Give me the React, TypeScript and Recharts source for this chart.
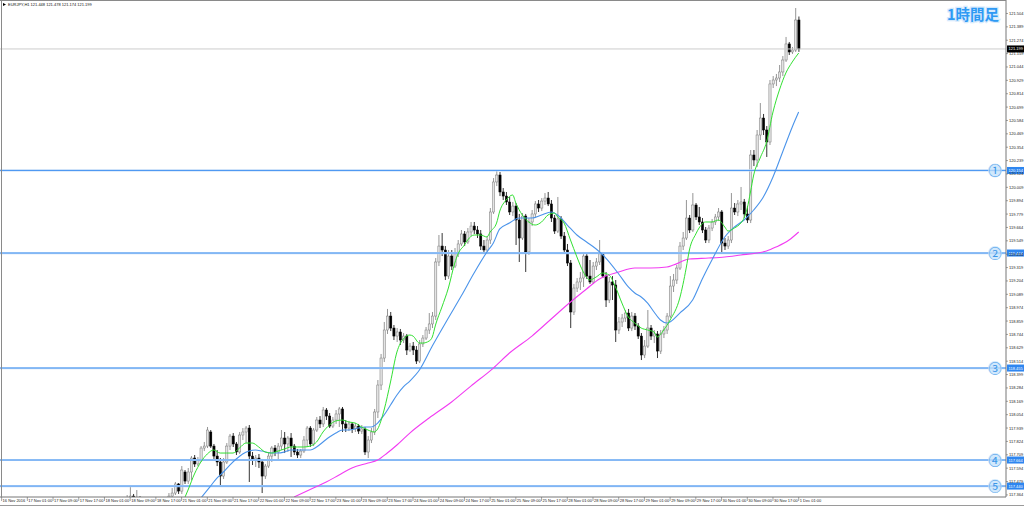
import { Bar, ComposedChart, Line, ReferenceLine, XAxis, YAxis } from "recharts";

// EURJPY H1, first visible bar index (bars before it sit below the window)
const firstBar = 36;
const slotCount = 313; // bars + empty chart shift on the right

// [open, high, low, close]
const candles: [number, number, number, number][] = [
  [117.191, 117.277, 117.148, 117.234],
  [117.234, 117.32, 117.191, 117.277],
  [117.277, 117.337, 117.217, 117.251],
  [117.251, 117.363, 117.234, 117.32],
  [117.32, 117.432, 117.277, 117.354],
  [117.354, 117.372, 117.268, 117.303],
  [117.303, 117.406, 117.268, 117.337],
  [117.337, 117.354, 117.251, 117.286],
  [117.286, 117.303, 117.2, 117.234],
  [117.234, 117.303, 117.2, 117.268],
  [117.268, 117.286, 117.182, 117.217],
  [117.217, 117.294, 117.191, 117.251],
  [117.251, 117.32, 117.217, 117.277],
  [117.277, 117.337, 117.251, 117.303],
  [117.303, 117.329, 117.234, 117.268],
  [117.268, 117.346, 117.243, 117.32],
  [117.32, 117.38, 117.294, 117.354],
  [117.354, 117.423, 117.329, 117.38],
  [117.38, 117.475, 117.363, 117.458],
  [117.458, 117.466, 117.372, 117.397],
  [117.397, 117.612, 117.372, 117.578],
  [117.561, 117.578, 117.458, 117.483],
  [117.483, 117.595, 117.458, 117.561],
  [117.561, 117.698, 117.492, 117.681],
  [117.681, 117.707, 117.604, 117.63],
  [117.63, 117.69, 117.612, 117.664],
  [117.664, 117.784, 117.647, 117.767],
  [117.767, 117.819, 117.741, 117.784],
  [117.784, 117.948, 117.767, 117.922],
  [117.905, 117.922, 117.767, 117.784],
  [117.784, 117.802, 117.673, 117.698],
  [117.698, 117.75, 117.612, 117.647],
  [117.647, 117.681, 117.449, 117.526],
  [117.526, 117.681, 117.501, 117.647],
  [117.647, 117.81, 117.63, 117.784],
  [117.784, 117.888, 117.75, 117.87],
  [117.87, 117.896, 117.776, 117.802],
  [117.802, 117.819, 117.707, 117.733],
  [117.733, 117.905, 117.716, 117.879],
  [117.879, 117.939, 117.836, 117.905],
  [117.905, 117.956, 117.81, 117.939],
  [117.939, 117.965, 117.475, 117.698],
  [117.698, 117.733, 117.621, 117.664],
  [117.664, 117.707, 117.604, 117.681],
  [117.681, 117.716, 117.595, 117.647],
  [117.647, 117.673, 117.38, 117.526],
  [117.526, 117.63, 117.501, 117.612],
  [117.612, 117.733, 117.595, 117.698],
  [117.698, 117.784, 117.647, 117.767],
  [117.767, 117.793, 117.698, 117.733],
  [117.733, 117.81, 117.664, 117.784],
  [117.784, 117.922, 117.75, 117.853],
  [117.853, 117.905, 117.724, 117.802],
  [117.802, 117.87, 117.733, 117.853],
  [117.853, 117.896, 117.69, 117.784],
  [117.784, 117.802, 117.707, 117.733],
  [117.733, 117.759, 117.681, 117.707],
  [117.707, 117.759, 117.681, 117.741],
  [117.741, 117.87, 117.724, 117.836],
  [117.836, 117.956, 117.776, 117.939],
  [117.939, 117.956, 117.776, 117.802],
  [117.802, 117.939, 117.784, 117.922],
  [117.922, 118.034, 117.905, 118.008],
  [118.008, 118.042, 117.939, 117.974],
  [117.974, 118.12, 117.948, 118.094],
  [118.094, 118.111, 118.008, 118.042],
  [118.042, 118.068, 117.939, 117.956],
  [117.956, 118.034, 117.939, 118.008],
  [118.008, 118.094, 117.974, 118.06],
  [118.06, 118.12, 117.948, 118.103],
  [118.103, 118.12, 117.905, 117.974],
  [117.974, 118.008, 117.905, 117.939],
  [117.939, 118.0, 117.913, 117.974],
  [117.974, 117.991, 117.896, 117.931],
  [117.931, 117.982, 117.905, 117.956],
  [117.956, 117.974, 117.888, 117.913],
  [117.913, 117.965, 117.888, 117.931],
  [117.931, 117.948, 117.707, 117.733],
  [117.733, 117.87, 117.681, 117.836],
  [117.836, 117.939, 117.81, 117.905],
  [117.905, 118.103, 117.879, 118.077],
  [118.077, 118.352, 118.025, 118.309],
  [118.309, 118.576, 118.266, 118.541],
  [118.541, 118.851, 118.507, 118.782],
  [118.782, 118.963, 118.748, 118.902],
  [118.902, 118.937, 118.773, 118.799],
  [118.799, 118.825, 118.696, 118.73],
  [118.73, 118.799, 118.679, 118.765],
  [118.765, 118.791, 118.653, 118.696],
  [118.696, 118.756, 118.67, 118.73],
  [118.73, 118.748, 118.567, 118.61],
  [118.61, 118.67, 118.593, 118.644],
  [118.644, 118.679, 118.567, 118.61],
  [118.61, 118.644, 118.49, 118.515],
  [118.515, 118.696, 118.498, 118.662],
  [118.662, 118.739, 118.636, 118.713],
  [118.713, 118.808, 118.696, 118.782],
  [118.782, 118.928, 118.748, 118.834],
  [118.834, 118.937, 118.799, 118.902],
  [118.902, 119.401, 118.868, 119.367],
  [119.367, 119.599, 119.332, 119.504],
  [119.504, 119.616, 119.418, 119.47],
  [119.47, 119.504, 119.212, 119.246],
  [119.246, 119.47, 119.221, 119.418],
  [119.418, 119.47, 119.298, 119.332],
  [119.332, 119.487, 119.315, 119.436],
  [119.436, 119.556, 119.41, 119.522],
  [119.522, 119.642, 119.504, 119.608],
  [119.608, 119.633, 119.504, 119.539],
  [119.539, 119.659, 119.522, 119.625],
  [119.625, 119.711, 119.59, 119.676],
  [119.676, 119.711, 119.608, 119.642],
  [119.642, 119.676, 119.573, 119.608],
  [119.608, 119.642, 119.47, 119.504],
  [119.504, 119.556, 119.436, 119.47],
  [119.47, 119.59, 119.453, 119.556],
  [119.556, 119.831, 119.522, 119.797],
  [119.797, 120.089, 119.78, 120.055],
  [120.055, 120.149, 120.02, 120.115],
  [120.115, 120.141, 119.934, 119.969],
  [119.969, 120.003, 119.9, 119.934],
  [119.934, 119.969, 119.857, 119.883],
  [119.883, 119.926, 119.771, 119.797],
  [119.797, 119.883, 119.762, 119.848],
  [119.848, 119.874, 119.513, 119.728],
  [119.728, 119.78, 119.367, 119.573],
  [119.573, 119.788, 119.556, 119.762],
  [119.762, 119.78, 119.281, 119.453],
  [119.453, 119.745, 119.427, 119.711],
  [119.711, 119.814, 119.676, 119.78],
  [119.78, 119.891, 119.745, 119.866],
  [119.866, 119.9, 119.797, 119.831],
  [119.831, 119.917, 119.805, 119.891],
  [119.891, 119.96, 119.857, 119.917],
  [119.917, 119.969, 119.848, 119.866],
  [119.866, 119.9, 119.711, 119.745],
  [119.745, 119.771, 119.608, 119.633],
  [119.633, 119.926, 119.616, 119.737],
  [119.737, 119.762, 119.565, 119.59],
  [119.59, 119.625, 119.444, 119.47],
  [119.47, 119.522, 119.332, 119.358],
  [119.358, 119.384, 118.799, 118.937],
  [118.937, 119.178, 118.911, 119.143],
  [119.143, 119.229, 119.109, 119.195],
  [119.195, 119.281, 119.126, 119.229],
  [119.229, 119.453, 119.152, 119.418],
  [119.418, 119.444, 119.221, 119.246],
  [119.246, 119.384, 119.178, 119.195],
  [119.195, 119.367, 119.178, 119.332],
  [119.332, 119.401, 119.298, 119.367],
  [119.367, 119.556, 119.341, 119.436],
  [119.436, 119.453, 119.229, 119.246],
  [119.246, 119.281, 118.98, 119.04],
  [119.04, 119.238, 119.014, 119.195],
  [119.195, 119.246, 119.04, 119.169],
  [119.169, 119.212, 118.679, 118.782],
  [118.782, 118.894, 118.748, 118.851],
  [118.851, 118.92, 118.808, 118.885],
  [118.885, 118.954, 118.851, 118.928],
  [118.928, 118.963, 118.773, 118.799],
  [118.799, 118.937, 118.773, 118.902],
  [118.902, 118.928, 118.782, 118.816],
  [118.816, 118.842, 118.705, 118.73],
  [118.73, 118.756, 118.524, 118.567],
  [118.567, 118.696, 118.541, 118.644],
  [118.644, 118.954, 118.627, 118.799],
  [118.799, 118.825, 118.696, 118.73],
  [118.73, 118.782, 118.67, 118.748],
  [118.748, 118.773, 118.541, 118.601],
  [118.601, 118.782, 118.576, 118.748],
  [118.748, 118.816, 118.713, 118.782],
  [118.782, 118.928, 118.748, 118.902],
  [118.902, 119.246, 118.885, 119.16],
  [119.16, 119.264, 119.109, 119.212],
  [119.212, 119.341, 119.178, 119.315],
  [119.315, 119.539, 119.298, 119.504],
  [119.504, 119.625, 119.47, 119.573],
  [119.573, 119.9, 119.556, 119.745],
  [119.745, 119.771, 119.616, 119.642],
  [119.642, 119.96, 119.625, 119.857],
  [119.857, 119.874, 119.728, 119.754],
  [119.754, 119.84, 119.685, 119.711],
  [119.711, 119.745, 119.616, 119.642],
  [119.642, 119.668, 119.53, 119.556],
  [119.556, 119.685, 119.53, 119.659],
  [119.659, 119.737, 119.633, 119.711],
  [119.711, 119.78, 119.685, 119.754],
  [119.754, 119.831, 119.719, 119.797],
  [119.797, 119.814, 119.444, 119.53],
  [119.53, 119.573, 119.47, 119.504],
  [119.504, 119.59, 119.479, 119.556],
  [119.556, 119.96, 119.53, 119.831],
  [119.831, 119.874, 119.771, 119.797],
  [119.797, 119.9, 119.762, 119.866],
  [119.866, 120.012, 119.814, 119.883],
  [119.883, 119.909, 119.745, 119.78],
  [119.78, 119.848, 119.702, 119.728],
  [119.728, 120.33, 119.702, 120.287],
  [120.287, 120.33, 120.192, 120.244],
  [120.244, 120.502, 120.184, 120.459],
  [120.459, 120.734, 120.416, 120.605],
  [120.605, 120.64, 120.459, 120.502],
  [120.502, 120.536, 120.27, 120.399],
  [120.399, 120.932, 120.373, 120.898],
  [120.898, 120.966, 120.863, 120.932],
  [120.932, 120.984, 120.88, 120.949],
  [120.949, 121.061, 120.915, 121.001],
  [121.001, 121.138, 120.966, 121.104],
  [121.104, 121.302, 121.087, 121.242],
  [121.242, 121.259, 121.147, 121.173],
  [121.173, 121.216, 121.156, 121.19],
  [121.19, 121.551, 121.173, 121.448],
  [121.448, 121.478, 121.174, 121.199],
];

// moving averages: [bar index, value]
const fastMa: [number, number][] = [
  [56, 117.277], [58, 117.406], [60, 117.544], [62, 117.647], [64, 117.716], [66, 117.75],
  [68, 117.724], [70, 117.724], [72, 117.724], [74, 117.767], [76, 117.81], [78, 117.81],
  [80, 117.776], [82, 117.733], [84, 117.724], [86, 117.741], [88, 117.759], [90, 117.776],
  [92, 117.776], [94, 117.776], [96, 117.784], [98, 117.819], [100, 117.905], [102, 117.965],
  [104, 118.0], [106, 118.008], [108, 117.991], [110, 117.982], [112, 117.948], [114, 117.922],
  [116, 117.905], [117, 117.931], [119, 118.094], [121, 118.335], [123, 118.593], [125, 118.705],
  [127, 118.739], [128, 118.73], [130, 118.67], [131, 118.67], [133, 118.687], [134, 118.722],
  [135, 118.825], [137, 118.98], [139, 119.143], [141, 119.358], [142, 119.436], [144, 119.513],
  [145, 119.556], [147, 119.599], [149, 119.599], [151, 119.582], [152, 119.625], [154, 119.702],
  [155, 119.805], [157, 119.9], [159, 119.943], [160, 119.874], [162, 119.771], [164, 119.711],
  [166, 119.685], [168, 119.711], [170, 119.771], [172, 119.788], [173, 119.754], [175, 119.702],
  [177, 119.556], [179, 119.41], [181, 119.281], [183, 119.212], [185, 119.238], [187, 119.272],
  [189, 119.255], [191, 119.152], [193, 119.014], [195, 118.894], [197, 118.842], [199, 118.799],
  [201, 118.782], [203, 118.765], [204, 118.722], [206, 118.782], [208, 118.868], [211, 119.057],
  [213, 119.315], [214, 119.47], [216, 119.608], [217, 119.659], [219, 119.711], [221, 119.711],
  [223, 119.728], [225, 119.668], [226, 119.633], [228, 119.659], [230, 119.702], [231, 119.745],
  [232, 119.831], [233, 119.969], [234, 120.115], [236, 120.261], [238, 120.399], [240, 120.657],
  [242, 120.846], [244, 120.992], [246, 121.087], [248, 121.164],
];

const midMa: [number, number][] = [
  [62, 117.337], [65, 117.44], [67, 117.509], [69, 117.561], [71, 117.621], [73, 117.673],
  [75, 117.716], [77, 117.741], [79, 117.75], [81, 117.741], [84, 117.724], [86, 117.724],
  [88, 117.733], [90, 117.75], [92, 117.75], [94, 117.75], [96, 117.75], [98, 117.776],
  [100, 117.819], [102, 117.862], [104, 117.896], [106, 117.922], [108, 117.922], [111, 117.939],
  [113, 117.948], [115, 117.948], [117, 117.982], [119, 118.051], [121, 118.137], [123, 118.223],
  [125, 118.292], [127, 118.343], [130, 118.438], [134, 118.644], [139, 118.885], [143, 119.074],
  [147, 119.272], [151, 119.453], [153, 119.53], [155, 119.651], [158, 119.702], [161, 119.745],
  [165, 119.745], [168, 119.771], [171, 119.797], [173, 119.771], [176, 119.685], [179, 119.599],
  [182, 119.539], [185, 119.479], [188, 119.401], [192, 119.264], [195, 119.152], [197, 119.1],
  [199, 119.066], [201, 119.014], [203, 118.937], [205, 118.868], [207, 118.842], [211, 118.928],
  [215, 119.04], [218, 119.221], [221, 119.384], [225, 119.582], [228, 119.668], [231, 119.728],
  [234, 119.814], [237, 119.926], [240, 120.098], [243, 120.313], [246, 120.528], [248, 120.657],
];

const slowMa: [number, number][] = [
  [91, 117.346], [97, 117.423], [101, 117.475], [105, 117.535], [109, 117.595], [114, 117.638],
  [117, 117.664], [120, 117.724], [123, 117.793], [127, 117.896], [133, 118.025], [140, 118.163],
  [146, 118.3], [153, 118.455], [158, 118.584], [165, 118.73], [171, 118.877], [177, 119.023],
  [182, 119.135], [186, 119.221], [192, 119.281], [197, 119.315], [202, 119.315], [207, 119.324],
  [209, 119.341], [214, 119.393], [220, 119.401], [225, 119.41], [230, 119.427], [235, 119.444],
  [238, 119.461], [241, 119.496], [245, 119.556], [248, 119.625],
];

const timeLabels = [
  "16 Nov 2016", "17 Nov 01:00", "17 Nov 09:00", "17 Nov 17:00", "18 Nov 01:00", "18 Nov 09:00",
  "18 Nov 17:00", "21 Nov 01:00", "21 Nov 09:00", "21 Nov 17:00", "22 Nov 01:00", "22 Nov 09:00",
  "22 Nov 17:00", "23 Nov 01:00", "23 Nov 09:00", "23 Nov 17:00", "24 Nov 01:00", "24 Nov 09:00",
  "24 Nov 17:00", "25 Nov 01:00", "25 Nov 09:00", "25 Nov 17:00", "28 Nov 01:00", "28 Nov 09:00",
  "28 Nov 17:00", "29 Nov 01:00", "29 Nov 09:00", "29 Nov 17:00", "30 Nov 01:00", "30 Nov 09:00",
  "30 Nov 17:00", "1 Dec 01:00",
];
const barsPerLabel = 8;

const priceTicks = [
  121.504, 121.389, 121.274, 121.159, 121.044, 120.929, 120.814, 120.699, 120.584, 120.469,
  120.354, 120.239, 120.124, 120.009, 119.894, 119.779, 119.664, 119.549, 119.434, 119.319,
  119.204, 119.089, 118.974, 118.859, 118.744, 118.629, 118.514, 118.399, 118.284, 118.169,
  118.054, 117.939, 117.824, 117.709, 117.594, 117.479, 117.364,
];

const levels = [120.154, 119.444, 118.455, 117.664, 117.44];
const levelMarks = ["①", "②", "③", "④", "⑤"];
const lastPrice = 121.199;
const title = "EURJPY,H1  121.448 121.478 121.174 121.199";

const rows: any[] = Array.from({ length: slotCount }, (_, i) => {
  const c = candles[i - firstBar];
  return { idx: i, ohlc: c, hl: c ? [c[2], c[1]] : undefined, fast: null, mid: null, slow: null };
});
fastMa.forEach(([i, v]) => (rows[i].fast = v));
midMa.forEach(([i, v]) => (rows[i].mid = v));
slowMa.forEach(([i, v]) => (rows[i].slow = v));

const axisFont = "'Liberation Sans', Arial, sans-serif";

function Candle(props: any) {
  const { x, y, width, height, payload } = props;
  if (!payload || !payload.ohlc) return null;
  const [o, h, l, c] = payload.ohlc;
  const top = Math.min(y, y + height);
  const span = Math.abs(height);
  const k = h > l ? span / (h - l) : 0;
  const py = (v: number) => top + (h - v) * k;
  const cx = x + width / 2;
  const up = c >= o;
  const bodyTop = py(Math.max(o, c));
  const bodyH = Math.max(0.8, Math.abs(py(o) - py(c)));
  const edge = up ? "#7a7a7a" : "#000";
  return (
    <g>
      <line x1={cx} x2={cx} y1={top} y2={top + span} stroke={edge} strokeWidth={0.8} />
      <rect x={cx - 1.1} y={bodyTop} width={2.2} height={bodyH} fill={up ? "#e4e4e4" : "#000"} stroke={edge} strokeWidth={0.5} />
    </g>
  );
}

function TimeTick(props: any) {
  const { x, y, payload } = props;
  const label = timeLabels[payload.value / barsPerLabel];
  return (
    <g>
      <line x1={x} x2={x} y1={y} y2={y + 4} stroke="#666" strokeWidth={0.6} />
      <text x={x + 1} y={y + 4.6} fontSize={4} fontFamily={axisFont} fill="#222">
        {label}
      </text>
    </g>
  );
}

function PriceTick(props: any) {
  const { x, y, payload } = props;
  return (
    <g>
      <line x1={x} x2={x + 2} y1={y} y2={y} stroke="#666" strokeWidth={0.6} />
      <text x={x + 3} y={y + 1.5} fontSize={4} fontFamily={axisFont} fill="#222">
        {payload.value.toFixed(3)}
      </text>
    </g>
  );
}

function LevelTag(props: any) {
  const { viewBox, mark, value } = props;
  if (!viewBox) return null;
  const right = viewBox.x + viewBox.width;
  const y = viewBox.y;
  return (
    <g>
      <circle cx={right - 11} cy={y} r={7} fill="#c2e0fb" opacity={0.75} />
      <text
        x={right - 11}
        y={y + 4.6}
        fontSize={13}
        textAnchor="middle"
        fontFamily="'Noto Sans CJK JP', sans-serif"
        fill="#3a96e8"
      >
        {mark}
      </text>
      <rect x={right + 1} y={y - 3.5} width={17} height={7} fill="#2e86f0" />
      <text x={right + 2.5} y={y + 1.5} fontSize={4} fontFamily={axisFont} fill="#fff">
        {value.toFixed(3)}
      </text>
    </g>
  );
}

function LastTag(props: any) {
  const { viewBox, value } = props;
  if (!viewBox) return null;
  const right = viewBox.x + viewBox.width;
  const y = viewBox.y;
  return (
    <g>
      <rect x={right + 1} y={y - 3.5} width={17} height={7} fill="#000" />
      <text x={right + 2.5} y={y + 1.5} fontSize={4} fontFamily={axisFont} fill="#fff">
        {value.toFixed(3)}
      </text>
    </g>
  );
}

export default function App() {
  const labelTicks = timeLabels.map((_, k) => k * barsPerLabel);
  return (
    <div style={{ position: "absolute", left: 0, top: 0, width: 1024, height: 507, background: "#fff" }}>
      <ComposedChart width={1024} height={507} data={rows} margin={{ top: 0, right: 0, bottom: 0, left: 0 }}>
        <XAxis
          dataKey="idx"
          type="category"
          ticks={labelTicks}
          interval={0}
          height={10}
          tickSize={0}
          tickMargin={0}
          tick={<TimeTick />}
          axisLine={{ stroke: "#777" }}
        />
        <YAxis
          orientation="right"
          type="number"
          width={18}
          domain={[117.346, 121.62]}
          allowDataOverflow
          ticks={priceTicks}
          interval={0}
          tickSize={0}
          tickMargin={0}
          tick={<PriceTick />}
          axisLine={{ stroke: "#777" }}
        />
        <ReferenceLine y={lastPrice} stroke="#cccccc" strokeWidth={1} label={<LastTag value={lastPrice} />} />
        {levels.map((v) => (
          <ReferenceLine key={`halo-${v}`} y={v} stroke="#c4dcf8" strokeWidth={2.2} />
        ))}
        {levels.map((v, k) => (
          <ReferenceLine
            key={`lvl-${v}`}
            y={v}
            stroke="#3d8ef0"
            strokeWidth={0.9}
            label={<LevelTag mark={levelMarks[k]} value={v} />}
          />
        ))}
        <Bar dataKey="hl" shape={(p: any) => <Candle {...p} />} isAnimationActive={false} />
        <Line type="monotone" dataKey="slow" stroke="#f23cf2" strokeWidth={1.1} dot={false} connectNulls isAnimationActive={false} />
        <Line type="monotone" dataKey="mid" stroke="#4b94ea" strokeWidth={1.1} dot={false} connectNulls isAnimationActive={false} />
        <Line type="monotone" dataKey="fast" stroke="#32e032" strokeWidth={1} dot={false} connectNulls isAnimationActive={false} />
      </ComposedChart>
      <svg width={1024} height={507} style={{ position: "absolute", left: 0, top: 0, pointerEvents: "none" }}>
        <line x1={0} x2={1006} y1={0.5} y2={0.5} stroke="#8a8a8a" />
        <line x1={1.5} x2={1.5} y1={0} y2={497} stroke="#8a8a8a" />
        <line x1={0} x2={1024} y1={505.5} y2={505.5} stroke="#9a9a9a" />
        <path d="M3 3 L6 4.5 L3 6 Z" fill="#000" />
        <text x={8} y={6.3} fontSize={4} fontFamily={axisFont} fill="#111">
          {title}
        </text>
        <text
          x={947}
          y={20}
          fontSize={14.5}
          fontWeight={700}
          fontFamily="'Noto Sans CJK JP', sans-serif"
          fill="#2e9af4"
          stroke="#d6eafc"
          strokeWidth={2.5}
          paintOrder="stroke"
        >
          1時間足
        </text>
      </svg>
    </div>
  );
}
